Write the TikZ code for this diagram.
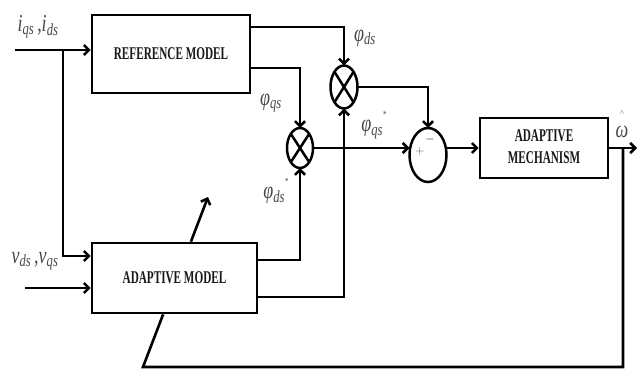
\documentclass[tikz,border=0pt]{standalone}
\usepackage{fontspec}
\setmainfont{Liberation Serif}
\usepackage{graphicx}
\usetikzlibrary{arrows.meta,shapes.geometric,calc}
\newcommand{\lab}[2]{\textit{#1}\textsubscript{\textit{#2}}}
\begin{document}
\begin{tikzpicture}[x=1pt,y=-1pt,
  wire/.style={line width=2.6pt},
  arr/.style={wire,-{Straight Barb[length=5pt,width=10pt]}},
  blk/.style={draw,line width=2.6pt,fill=white,inner sep=0,align=center,text=black!90,
    font=\fontsize{11.2}{14}\selectfont\bfseries},
  mult/.style={draw,ellipse,line width=2.5pt,inner sep=0,outer sep=0},
  lbl/.style={text=black!72,inner sep=0,font=\fontsize{18}{20}\selectfont}]
\useasboundingbox (0,0) rectangle (643,371);

% blocks
\node[blk,minimum width=158pt,minimum height=78pt] (rm) at (171,54)
  {\scalebox{1}[1.6]{REFERENCE MODEL}};
\node[blk,minimum width=165pt,minimum height=70pt] (am) at (174.5,278)
  {\scalebox{1}[1.6]{ADAPTIVE MODEL}};
\node[blk,minimum width=128pt,minimum height=60pt] (mech) at (544,148)
  {\scalebox{1}[1.6]{\begin{tabular}{@{}c@{}}ADAPTIVE\\MECHANISM\end{tabular}}};

% multipliers and summer
\node[mult,minimum width=27pt,minimum height=43pt] (m1) at (344,87) {};
\node[mult,minimum width=26pt,minimum height=40pt] (m2) at (300,148) {};
\node[mult,minimum width=37pt,minimum height=54pt] (sum) at (428,155) {};
\draw[line width=2.5pt] (m1.north east) -- (m1.south west) (m1.north west) -- (m1.south east);
\draw[line width=2.5pt] (m2.north east) -- (m2.south west) (m2.north west) -- (m2.south east);
\node[inner sep=0,text=black!70,font=\fontsize{12}{12}\selectfont] (plus) at (420,152) {$+$};
\node[inner sep=0,font=\fontsize{12}{12}\selectfont] (minus) at (430,140) {$-$};

% coordinates
\coordinate (iin) at (15,50);
\coordinate (br) at (63,50);
\coordinate (vin) at (25,288);
\coordinate (fb) at (623,148);
\coordinate (fbc) at (623,367);
\coordinate (fbl) at (143,367);
\coordinate (tip) at (208,197);
\coordinate (wout) at (637,148);

% connectors
\draw[arr] (iin) -- (rm.west |- iin);
\draw[arr] (br) |- (am.west |- 0,256);
\draw[arr] (vin) -- (am.west |- vin);
\draw[arr] (rm.east |- 0,27) -| (m1.north);
\draw[arr] (rm.east |- 0,68) -| (m2.north);
\draw[arr] (am.east |- 0,260) -| (m2.south);
\draw[arr] (am.east |- 0,297) -| (m1.south);
\draw[arr] (m1.east) -| (sum.north);
\draw[arr] (m2.east) -- (sum.west |- m2.east);
\draw[arr] (sum.east |- mech.west) -- (mech.west);
\draw[arr] (mech.east) -- (wout);
\draw[wire] (fb) -- (fbc) -- (fbl) -- (intersection of fbl--tip and am.south west--am.south east);
\draw[arr] (intersection of fbl--tip and am.north west--am.north east) -- (tip);

% labels
\node[lbl] (li) at (38,27) {\scalebox{1}[1.35]{\lab{i}{qs}\,,\lab{i}{ds}}};
\node[lbl] (lv) at (35,261) {\scalebox{1}[1.35]{\lab{v}{ds}\,,\lab{v}{qs}}};
\node[lbl] (lpds) at (365,38) {\scalebox{1}[1.35]{\lab{φ}{ds}}};
\node[lbl] (lpqs) at (271,103) {\scalebox{1}[1.35]{\lab{φ}{qs}}};
\node[lbl] (lpqss) at (374,125) {\scalebox{1}[1.35]{\lab{φ}{qs}\raisebox{11pt}{\scriptsize *}}};
\node[lbl] (lpdss) at (276,191) {\scalebox{1}[1.35]{\lab{φ}{ds}\raisebox{11pt}{\scriptsize *}}};
\node[lbl] (lw) at (622,121) {\scalebox{1}[1.35]{\begin{tabular}{@{}c@{}}{\tiny$\wedge$}\\[-3pt]\textit{ω}\end{tabular}}};
\end{tikzpicture}
\end{document}
